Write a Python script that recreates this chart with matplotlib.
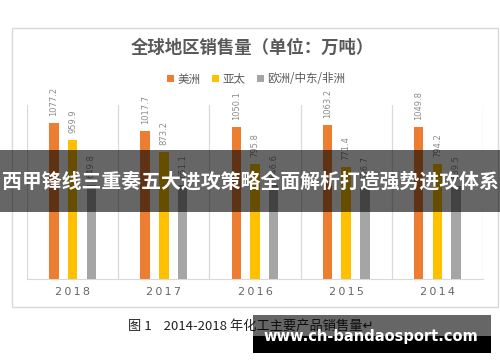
import matplotlib
matplotlib.use("Agg")
import matplotlib.pyplot as plt
from matplotlib.patches import Rectangle
import numpy as np

plt.rcParams['font.family'] = ['Noto Sans CJK SC', 'DejaVu Sans']

years = ["2018", "2017", "2016", "2015", "2014"]
series_names = ["美洲", "亚太", "欧洲/中东/非洲"]
americas = [1077.2, 1017.7, 1050.1, 1063.2, 1049.8]
apac = [959.9, 873.2, 795.8, 771.4, 794.2]
emea = [649.8, 651.1, 646.6, 636.7, 639.5]
colors = ["#ED7D31", "#FFC000", "#A5A5A5"]

title = "全球地区销售量（单位：万吨）"
banner = "西甲锋线三重奏五大进攻策略全面解析打造强势进攻体系"
caption = "图 1    2014-2018 年化工主要产品销售量↵"
watermark = "www.ch-bandaosport.com"

W, H = 500, 362
fig = plt.figure(figsize=(W / 100, H / 100), dpi=100)
fig.patch.set_facecolor("white")

def fx(px):
    return px / W

def fy(py):
    return 1 - py / H

# outer chart frame
fig.add_artist(Rectangle((fx(12), fy(307)), fx(498) - fx(12), fy(28) - fy(307),
                         transform=fig.transFigure, fill=False,
                         edgecolor="#D9D9D9", linewidth=1.0, zorder=0.5))

ax = fig.add_axes([fx(27), fy(279), fx(483) - fx(27), fy(105) - fy(279)])
x = np.arange(len(years))
bw = 0.105
off = 0.205
data = [americas, apac, emea]
handles = []
for i, (vals, c) in enumerate(zip(data, colors)):
    b = ax.bar(x + (i - 1) * off, vals, width=bw, color=c, zorder=3, label=series_names[i])
    handles.append(b)
    for xi, v in zip(x + (i - 1) * off, vals):
        ax.annotate(f"{v:.1f}", (xi, v), xytext=(0, 5), textcoords="offset points",
                    rotation=90, ha="center", va="bottom", fontsize=6,
                    color="#8C8C8C", family="DejaVu Sans")

ax.set_xlim(-0.5, len(years) - 0.5)
ax.set_ylim(0, 1200)
for b in np.arange(-0.5, len(years), 1.0):
    ax.axvline(b, color="#D9D9D9", linewidth=0.9, zorder=1)
for s in ["top", "left", "right"]:
    ax.spines[s].set_visible(False)
ax.spines["bottom"].set_color("#D9D9D9")
ax.set_yticks([])
ax.set_xticks(x)
ax.set_xticklabels(["\u2009".join(y) for y in years], fontsize=8, color="#666666",
                   family="DejaVu Sans")
ax.tick_params(axis="x", length=0, pad=6)
ax.set_facecolor("none")

fig.text(fx(252), fy(48), title, ha="center", va="center", fontsize=12.5,
         fontweight="bold", color="#595959")

fig.legend(handles=handles, labels=series_names, loc="center",
           bbox_to_anchor=(fx(256), fy(79)), ncol=3, frameon=False,
           fontsize=8.3, handlelength=0.6, handleheight=0.6, handletextpad=0.3,
           columnspacing=1.0, labelcolor="#595959")

# caption
fig.text(fx(128), fy(326), caption, ha="left", va="center", fontsize=9.5, color="#222222")

# banner overlay
fig.add_artist(Rectangle((0, fy(212)), 1, fy(150) - fy(212), transform=fig.transFigure,
                         facecolor="black", alpha=0.6, edgecolor="none", zorder=5))
fig.text(0.5, fy(181), banner, ha="center", va="center", fontsize=14.3,
         fontweight="bold", color="white", zorder=6)

# watermark box
fig.add_artist(Rectangle((fx(253), fy(336)), fx(491) - fx(253), fy(315) - fy(336),
                         transform=fig.transFigure, facecolor="black", alpha=0.6,
                         edgecolor="none", zorder=5))
fig.add_artist(Rectangle((fx(253), fy(353)), fx(491) - fx(253), fy(336) - fy(353),
                         transform=fig.transFigure, facecolor="black",
                         edgecolor="none", zorder=5))
fig.text(fx(371), fy(337), watermark, ha="center", va="center", fontsize=10.5,
         fontweight="bold", color="white", family="DejaVu Sans", zorder=6)

fig.savefig("out.png", dpi=100)
